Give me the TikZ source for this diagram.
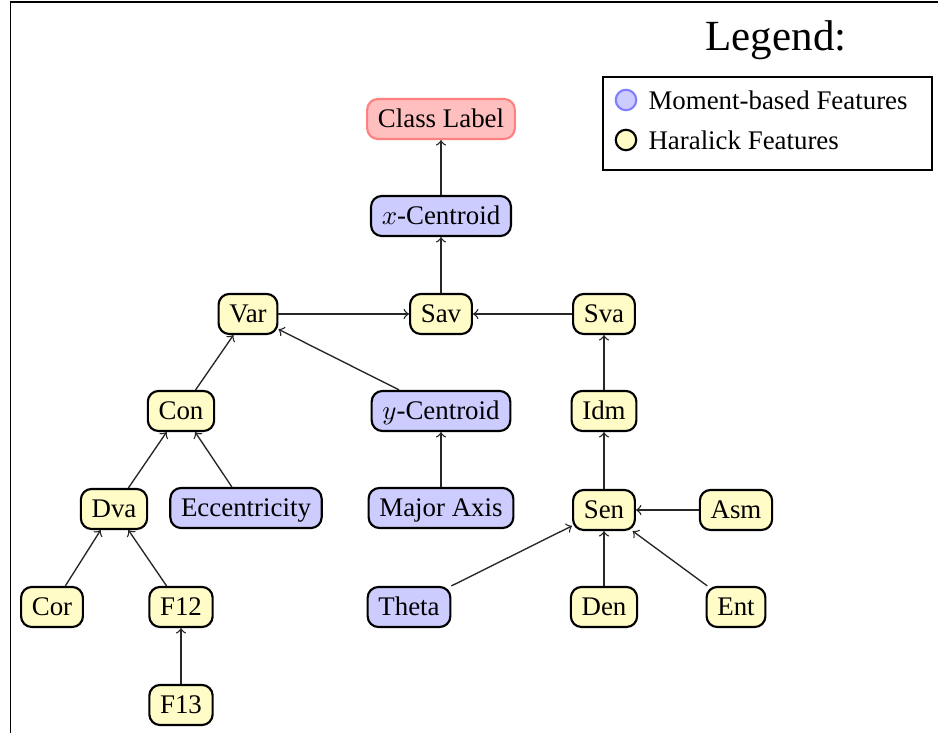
\documentclass[tikz,border=0pt]{standalone}
\usepackage{fontspec}
\setmainfont{Liberation Serif}
\begin{document}
\begin{tikzpicture}[x=0.372pt,y=-0.372pt,
  feat/.style={rounded corners=4pt, line width=0.8pt, draw=black, minimum height=14.9pt,
    inner xsep=4pt, inner ysep=2pt, text height=7.3pt, text depth=0.7pt, font=\fontsize{10pt}{12pt}\selectfont},
  mom/.style={feat, fill=blue!20},
  har/.style={feat, fill=yellow!22},
  cls/.style={feat, fill=red!25, draw=red!50},
  arr/.style={->, line width=0.5pt, draw=black!85},
  legcirc/.style={circle, minimum size=7.6pt, inner sep=0pt, line width=0.8pt}]
\useasboundingbox (0,0) rectangle (938,733);
\draw[line width=0.6pt] (10.5,733) -- (10.5,2) -- (938,2);
% nodes
\node[cls] (cl) at (441,119) {Class Label};
\node[mom] (xc) at (441,216) {$x$-Centroid};
\node[har] (var) at (248,314) {Var};
\node[har] (sav) at (441,314) {Sav};
\node[har] (sva) at (604,314) {Sva};
\node[har] (con) at (181,411) {Con};
\node[mom] (yc) at (441,411) {$y$-Centroid};
\node[har] (idm) at (604,411) {Idm};
\node[har] (dva) at (114,509) {Dva};
\node[mom] (ecc) at (246,508) {Eccentricity};
\node[mom] (maj) at (441,508) {Major Axis};
\node[har] (sen) at (604,510) {Sen};
\node[har] (asm) at (736,510) {Asm};
\node[har] (cor) at (52,607) {Cor};
\node[har] (f12) at (181,607) {F12};
\node[mom] (theta) at (409,607) {Theta};
\node[har] (den) at (604,607) {Den};
\node[har] (ent) at (736,607) {Ent};
\node[har] (f13) at (181,705) {F13};
% edges
\draw[arr] (xc) -- (cl);
\draw[arr] (sav) -- (xc);
\draw[arr] (var) -- (sav);
\draw[arr] (sva) -- (sav);
\draw[arr] (yc) -- (var);
\draw[arr] (con) -- (var);
\draw[arr] (idm) -- (sva);
\draw[arr] (dva) -- (con);
\draw[arr] (ecc) -- (con);
\draw[arr] (maj) -- (yc);
\draw[arr] (sen) -- (idm);
\draw[arr] (cor) -- (dva);
\draw[arr] (f12) -- (dva);
\draw[arr] (f13) -- (f12);
\draw[arr] (theta) -- (sen);
\draw[arr] (den) -- (sen);
\draw[arr] (ent) -- (sen);
\draw[arr] (asm) -- (sen);
% legend
\node[font=\fontsize{16pt}{19pt}\selectfont] (legt) at (776,40) {Legend:};
\node[draw, line width=0.9pt, minimum width=122.4pt, minimum height=34.6pt, inner sep=0pt] (legbox) at (767.5,123.5) {};
\node[legcirc, fill=blue!20, draw=blue!50] (lc1) at (626,100) {};
\node[legcirc, fill=yellow!22, draw=black] (lc2) at (626,140) {};
\node[anchor=west, inner sep=0pt, font=\fontsize{10pt}{12pt}\selectfont] (lt1) at (648,100) {Moment-based Features};
\node[anchor=west, inner sep=0pt, font=\fontsize{10pt}{12pt}\selectfont] (lt2) at (648,140) {Haralick Features};
\end{tikzpicture}
\end{document}
